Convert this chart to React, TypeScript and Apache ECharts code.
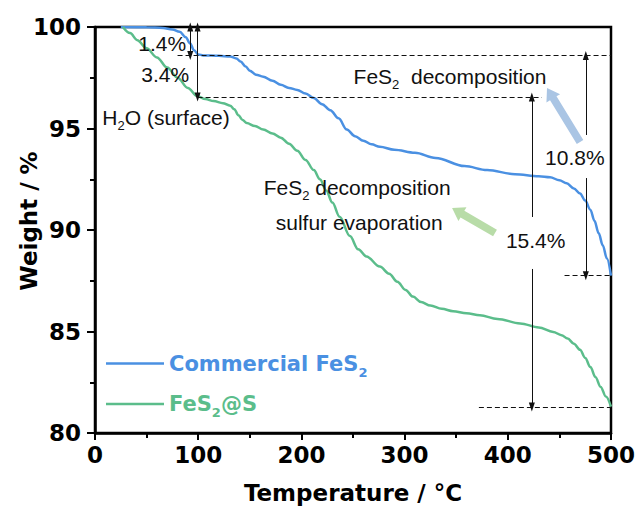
import React, { useEffect, useRef } from 'react';
import * as echarts from 'echarts';

// ---- data ----
const commercialFeS2: [number, number][] = [
  [25, 100], [50, 99.99], [66, 99.95], [75, 99.88], [82, 99.77], [88, 99.5], [92, 99.2], [96, 98.85],
  [100, 98.65], [105, 98.6], [120, 98.58], [131, 98.55], [137, 98.45], [141, 98.3], [146, 98.05],
  [150, 97.85], [156, 97.65], [163, 97.55], [172, 97.35], [180, 97.15], [188, 97.0], [196, 96.9],
  [204, 96.72], [212, 96.5], [220, 96.2], [228, 95.9], [236, 95.5], [244, 94.95], [252, 94.62],
  [260, 94.4], [268, 94.22], [276, 94.1], [290, 93.95], [310, 93.8], [330, 93.55], [358, 93.15],
  [380, 92.95], [407, 92.75], [430, 92.65], [441, 92.6], [450, 92.45], [457, 92.3], [464, 92.05],
  [470, 91.8], [475, 91.45], [480, 91.0], [484, 90.45], [488, 89.85], [492, 89.25], [496, 88.6],
  [500, 87.75],
];
const fes2AtS: [number, number][] = [
  [27, 100], [34, 99.7], [41, 99.35], [50, 98.95], [60, 98.5], [70, 98.0], [80, 97.5], [90, 97.0],
  [99, 96.6], [107, 96.45], [115, 96.35], [124, 96.25], [131, 96.12], [135, 95.95], [139, 95.65],
  [143, 95.42], [147, 95.27], [155, 95.12], [163, 94.95], [172, 94.75], [180, 94.55], [188, 94.25],
  [196, 93.9], [204, 93.45], [212, 92.95], [218, 92.5], [224, 91.95], [230, 91.35], [237, 90.65],
  [247, 89.7], [255, 89.05], [263, 88.7], [276, 88.2], [285, 87.85], [293, 87.45], [301, 87.05],
  [308, 86.72], [316, 86.45], [325, 86.28], [336, 86.12], [347, 86.0], [360, 85.9], [373, 85.8],
  [390, 85.62], [412, 85.4], [430, 85.2], [444, 84.98], [452, 84.82], [458, 84.65], [464, 84.4],
  [470, 84.1], [475, 83.7], [480, 83.25], [485, 82.75], [490, 82.27], [495, 81.8], [500, 81.3],
];
const seriesNames = ['Commercial FeS2', 'FeS2@S'];
const xAxisRange = [0, 500, 100];
const yAxisRange = [80, 100, 5];

// annotation lines in data coordinates: [from, to, startSymbol, endSymbol, dashed]
const annotationLines: [[number, number], [number, number], string, string, boolean][] = [
  [[80, 98.6], [500, 98.6], 'none', 'none', true],
  [[99.4, 96.55], [433, 96.55], 'none', 'none', true],
  [[372, 81.28], [500, 81.28], 'none', 'none', true],
  [[455, 87.75], [500, 87.75], 'none', 'none', true],
  [[92.3, 100], [92.3, 98.6], 'triangle', 'triangle', false],
  [[99.4, 100], [99.4, 96.55], 'triangle', 'triangle', false],
  [[423.3, 90.64], [423.3, 96.55], 'none', 'triangle', false],
  [[423.3, 88.08], [423.3, 81.28], 'none', 'triangle', false],
  [[475.6, 94.68], [475.6, 98.6], 'none', 'triangle', false],
  [[475.6, 92.56], [475.6, 87.75], 'none', 'triangle', false],
];

// thick pointer arrows: tail, tip (data coords), colour
const pointerArrows: [[number, number], [number, number], string][] = [
  [[470, 94.33], [438, 96.99], '#aac5e4'],
  [[387.6, 89.85], [346, 91.08], '#b8dca8'],
];

// annotation texts: position (data coords), rich text, align
const annotationTexts: [[number, number], string, string][] = [
  [[65.1, 99.21], '{a|1.4%}', 'center'],
  [[68, 97.64], '{a|3.4%}', 'center'],
  [[7.1, 95.52], '{a|H}{s|2}{a|O (surface)}', 'left'],
  [[344, 97.54], '{a|FeS}{s|2}{a|  decomposition}', 'center'],
  [[254, 92.07], '{a|FeS}{s|2}{a| decomposition}', 'center'],
  [[256, 90.39], '{a|sulfur evaporation}', 'center'],
  [[427, 89.5], '{a|15.4%}', 'center'],
  [[465, 93.55], '{a|10.8%}', 'center'],
];

const BLUE = '#4a90e2';
const GREEN = '#5bbd8b';
const BOLD_FONT = 'DejaVu Sans';
const REG_FONT = 'Liberation Sans';

export default function App() {
  const ref = useRef<HTMLDivElement>(null);
  useEffect(() => {
    const chart = echarts.init(ref.current!, null, { renderer: 'svg' });
    const axisLabelStyle = {
      color: '#000',
      fontFamily: BOLD_FONT,
      fontWeight: 'bold' as const,
      fontSize: 23,
    };
    chart.setOption({
      animation: false,
      backgroundColor: '#fff',
      grid: {
        left: 95,
        right: 24,
        top: 27,
        bottom: 75,
        show: true,
        borderColor: '#000',
        borderWidth: 2.5,
        containLabel: false,
        outerBoundsMode: 'none',
      },
      legend: {
        left: 101,
        top: 348,
        orient: 'vertical',
        icon: 'rect',
        itemWidth: 58,
        itemHeight: 2.5,
        itemGap: 15,
        data: seriesNames,
        formatter: (name: string) =>
          name === seriesNames[0] ? '{ba|Commercial FeS}{bs|2}' : '{ga|FeS}{gs|2}{ga|@S}',
        textStyle: {
          rich: {
            ba: { color: BLUE, fontFamily: BOLD_FONT, fontWeight: 'bold', fontSize: 21, lineHeight: 30 },
            bs: { color: BLUE, fontFamily: BOLD_FONT, fontWeight: 'bold', fontSize: 13, lineHeight: 12, verticalAlign: 'bottom' },
            ga: { color: GREEN, fontFamily: BOLD_FONT, fontWeight: 'bold', fontSize: 21, lineHeight: 30 },
            gs: { color: GREEN, fontFamily: BOLD_FONT, fontWeight: 'bold', fontSize: 13, lineHeight: 12, verticalAlign: 'bottom' },
          },
        },
      },
      xAxis: {
        type: 'value',
        min: xAxisRange[0],
        max: xAxisRange[1],
        interval: xAxisRange[2],
        name: 'Temperature / °C',
        nameLocation: 'middle',
        nameGap: 48,
        nameMoveOverlap: false,
        nameTextStyle: { ...axisLabelStyle },
        axisLine: { lineStyle: { color: '#000', width: 2.5 } },
        axisTick: { show: true, length: 7, lineStyle: { color: '#000', width: 2 } },
        minorTick: { show: true, splitNumber: 2, length: 5, lineStyle: { color: '#000', width: 2 } },
        splitLine: { show: false },
        axisLabel: { ...axisLabelStyle, margin: 10 },
      },
      yAxis: {
        type: 'value',
        min: yAxisRange[0],
        max: yAxisRange[1],
        interval: yAxisRange[2],
        name: 'Weight / %',
        nameLocation: 'middle',
        nameGap: 55,
        nameMoveOverlap: false,
        nameTextStyle: { ...axisLabelStyle, padding: [0, 0, 0, 18] },
        axisLine: { show: true, lineStyle: { color: '#000', width: 2.5 } },
        axisTick: { show: true, length: 8, lineStyle: { color: '#000', width: 2 } },
        minorTick: { show: true, splitNumber: 2, length: 5, lineStyle: { color: '#000', width: 2 } },
        splitLine: { show: false },
        axisLabel: { ...axisLabelStyle, margin: 14 },
      },
      series: [
        {
          name: seriesNames[0],
          type: 'line',
          data: commercialFeS2,
          showSymbol: false,
          symbol: 'none',
          smooth: 0.35,
          smoothMonotone: 'x',
          color: BLUE,
          lineStyle: { color: BLUE, width: 2.5 },
          z: 3,
          markLine: {
            silent: true,
            animation: false,
            label: { show: false },
            emphasis: { disabled: true },
            data: annotationLines.map(([from, to, s1, s2, dashed]) => [
              {
                coord: from,
                symbol: s1,
                symbolSize: [6, 9],
                lineStyle: { color: '#111', width: 1, type: dashed ? [5, 3] : 'solid' },
                itemStyle: { color: '#111' },
              },
              { coord: to, symbol: s2, symbolSize: [6, 9], itemStyle: { color: '#111' } },
            ]),
          },
        },
        {
          name: seriesNames[1],
          type: 'line',
          data: fes2AtS,
          showSymbol: false,
          symbol: 'none',
          smooth: 0.35,
          smoothMonotone: 'x',
          color: GREEN,
          lineStyle: { color: GREEN, width: 2.5 },
          z: 3,
        },
      ],
    });

    const toPx = (p: [number, number]) => chart.convertToPixel({ gridIndex: 0 }, p) as number[];
    const graphics: any[] = [];
    pointerArrows.forEach(([tail, tip, color]) => {
      const a = toPx(tail);
      const b = toPx(tip);
      const dx = b[0] - a[0];
      const dy = b[1] - a[1];
      const len = Math.hypot(dx, dy);
      const ux = dx / len, uy = dy / len;
      const nx = -uy, ny = ux;
      const sw = 3.8, hw = 8, hl = 12;
      const bx = b[0] - ux * hl, by = b[1] - uy * hl;
      graphics.push({
        type: 'polygon',
        silent: true,
        shape: {
          points: [
            [a[0] + nx * sw, a[1] + ny * sw],
            [bx + nx * sw, by + ny * sw],
            [bx + nx * hw, by + ny * hw],
            [b[0], b[1]],
            [bx - nx * hw, by - ny * hw],
            [bx - nx * sw, by - ny * sw],
            [a[0] - nx * sw, a[1] - ny * sw],
          ],
        },
        style: { fill: color },
        z: 2,
      });
    });
    annotationTexts.forEach(([pos, text, align]) => {
      const p = toPx(pos);
      graphics.push({
        type: 'text',
        x: p[0],
        y: p[1],
        silent: true,
        z: 5,
        style: {
          text,
          align,
          verticalAlign: 'middle',
          rich: {
            a: { fontFamily: REG_FONT, fontSize: 21, fill: '#111', lineHeight: 28 },
            s: { fontFamily: REG_FONT, fontSize: 13, fill: '#111', lineHeight: 12, verticalAlign: 'bottom' },
          },
        },
      });
    });
    chart.setOption({ graphic: graphics });
    return () => chart.dispose();
  }, []);
  return <div ref={ref} style={{ position: 'absolute', left: 0, top: 0, width: 635, height: 508 }} />;
}
